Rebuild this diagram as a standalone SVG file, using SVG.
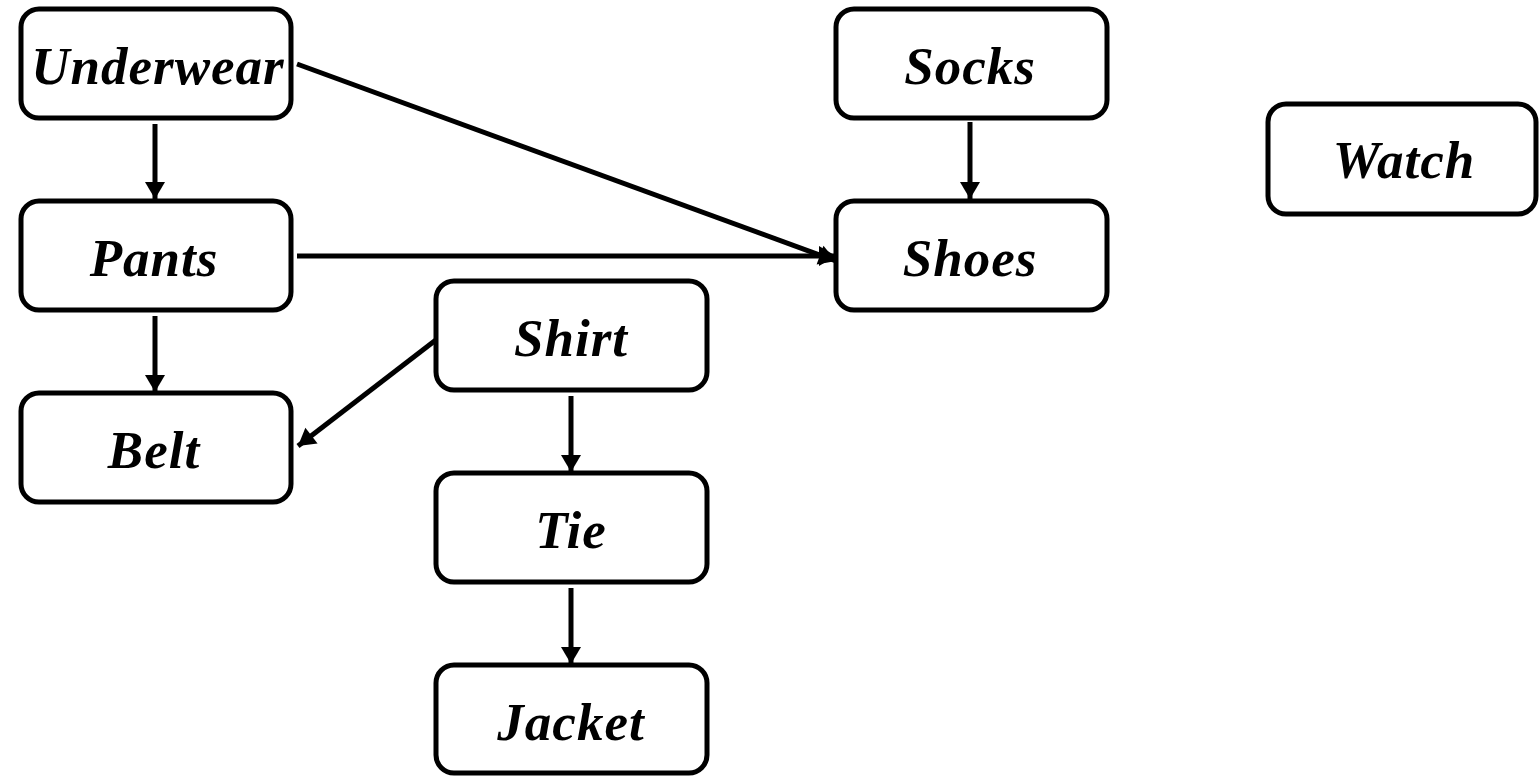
<svg xmlns="http://www.w3.org/2000/svg" width="1539" height="776" viewBox="0 0 1539 776">
<style>
.box{fill:#fff;stroke:#000;stroke-width:5}
.lbl{font-family:"Liberation Serif","Times New Roman",serif;font-weight:bold;font-style:italic;font-size:53px;letter-spacing:1px;text-anchor:middle;fill:#000}
.edge{stroke:#000;stroke-width:5;fill:none}
</style>
<defs>
<marker id="ah" markerUnits="userSpaceOnUse" markerWidth="20" markerHeight="20" refX="17" refY="10" orient="auto" overflow="visible">
<path d="M0,0 L17,10 L0,20 z" fill="#000"/>
</marker>
</defs>
<rect width="1539" height="776" fill="#fff"/>
<g id="connectors">
<line class="edge" x1="155" y1="124" x2="155" y2="199" marker-end="url(#ah)"/>
<line class="edge" x1="155" y1="316" x2="155" y2="392" marker-end="url(#ah)"/>
<line class="edge" x1="970" y1="122" x2="970" y2="199" marker-end="url(#ah)"/>
<line class="edge" x1="571" y1="396" x2="571" y2="472" marker-end="url(#ah)"/>
<line class="edge" x1="571" y1="588" x2="571" y2="664" marker-end="url(#ah)"/>
<line class="edge" x1="297" y1="256" x2="836" y2="256" marker-end="url(#ah)"/>
<line class="edge" x1="297" y1="64" x2="836" y2="261" marker-end="url(#ah)"/>
<line class="edge" x1="441" y1="336" x2="298" y2="446" marker-end="url(#ah)"/>
</g>
<g id="underwear"><rect class="box" x="21" y="9" width="270" height="109" rx="18"/><text class="lbl" x="158" y="84">Underwear</text></g>
<g id="pants"><rect class="box" x="21" y="201" width="270" height="109" rx="18"/><text class="lbl" x="154" y="276">Pants</text></g>
<g id="belt"><rect class="box" x="21" y="393" width="270" height="109" rx="18"/><text class="lbl" x="154" y="468">Belt</text></g>
<g id="shirt"><rect class="box" x="436" y="281" width="271" height="109" rx="18"/><text class="lbl" x="571" y="356">Shirt</text></g>
<g id="tie"><rect class="box" x="436" y="473" width="271" height="109" rx="18"/><text class="lbl" x="571" y="548">Tie</text></g>
<g id="jacket"><rect class="box" x="436" y="665" width="271" height="108" rx="18"/><text class="lbl" x="571" y="740">Jacket</text></g>
<g id="socks"><rect class="box" x="836" y="9" width="271" height="109" rx="18"/><text class="lbl" x="970" y="84">Socks</text></g>
<g id="shoes"><rect class="box" x="836" y="201" width="271" height="109" rx="18"/><text class="lbl" x="970" y="276">Shoes</text></g>
<g id="watch"><rect class="box" x="1268" y="104" width="268" height="110" rx="18"/><text class="lbl" x="1404" y="178">Watch</text></g>
</svg>
